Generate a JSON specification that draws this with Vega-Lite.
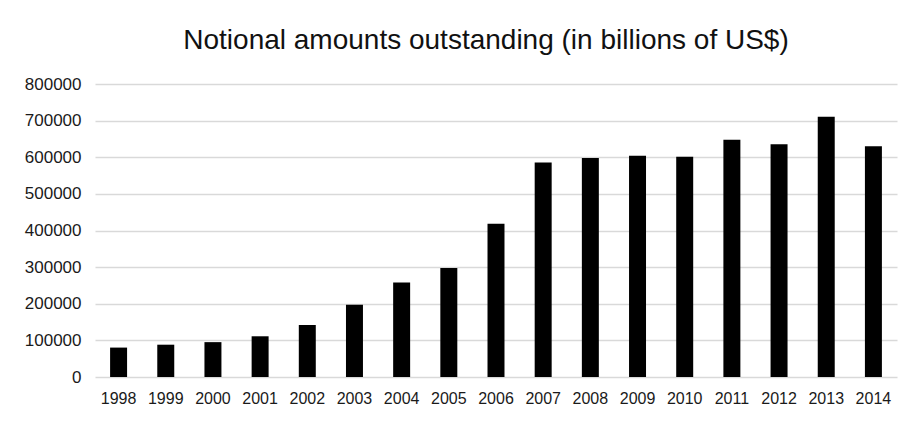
{
  "$schema": "https://vega.github.io/schema/vega-lite/v6.json",
  "autosize": "none",
  "width": 802,
  "height": 293,
  "padding": {"left": 95, "top": 84, "right": 7, "bottom": 45},
  "background": "white",
  "title": {
    "text": "Notional amounts outstanding (in billions of US$)",
    "font": "Liberation Sans",
    "fontSize": 28,
    "fontWeight": "normal",
    "color": "#111111",
    "anchor": "middle",
    "dx": -10,
    "offset": 20
  },
  "config": {
    "view": {"stroke": null},
    "font": "Liberation Sans"
  },
  "data": {
    "values": [
      {"year": "1998", "value": 80309},
      {"year": "1999", "value": 88202},
      {"year": "2000", "value": 95199},
      {"year": "2001", "value": 111178},
      {"year": "2002", "value": 141665},
      {"year": "2003", "value": 197167},
      {"year": "2004", "value": 257894},
      {"year": "2005", "value": 297670},
      {"year": "2006", "value": 418131},
      {"year": "2007", "value": 585932},
      {"year": "2008", "value": 598147},
      {"year": "2009", "value": 603900},
      {"year": "2010", "value": 601046},
      {"year": "2011", "value": 647762},
      {"year": "2012", "value": 635681},
      {"year": "2013", "value": 710633},
      {"year": "2014", "value": 630150}
    ]
  },
  "mark": {"type": "bar", "color": "#000000"},
  "encoding": {
    "x": {
      "field": "year",
      "type": "ordinal",
      "scale": {"paddingInner": 0.64, "paddingOuter": 0.32},
      "axis": {
        "title": null,
        "labelAngle": 0,
        "labelFontSize": 16,
        "labelColor": "#1a1a1a",
        "labelPadding": 13,
        "ticks": false,
        "domain": false
      }
    },
    "y": {
      "field": "value",
      "type": "quantitative",
      "scale": {"domain": [0, 800000]},
      "axis": {
        "title": null,
        "values": [0, 100000, 200000, 300000, 400000, 500000, 600000, 700000, 800000],
        "format": "d",
        "labelFontSize": 17,
        "labelColor": "#1a1a1a",
        "labelPadding": 14,
        "ticks": false,
        "domain": false,
        "grid": true,
        "gridColor": "#d9d9d9",
        "gridWidth": 1.3
      }
    }
  }
}
